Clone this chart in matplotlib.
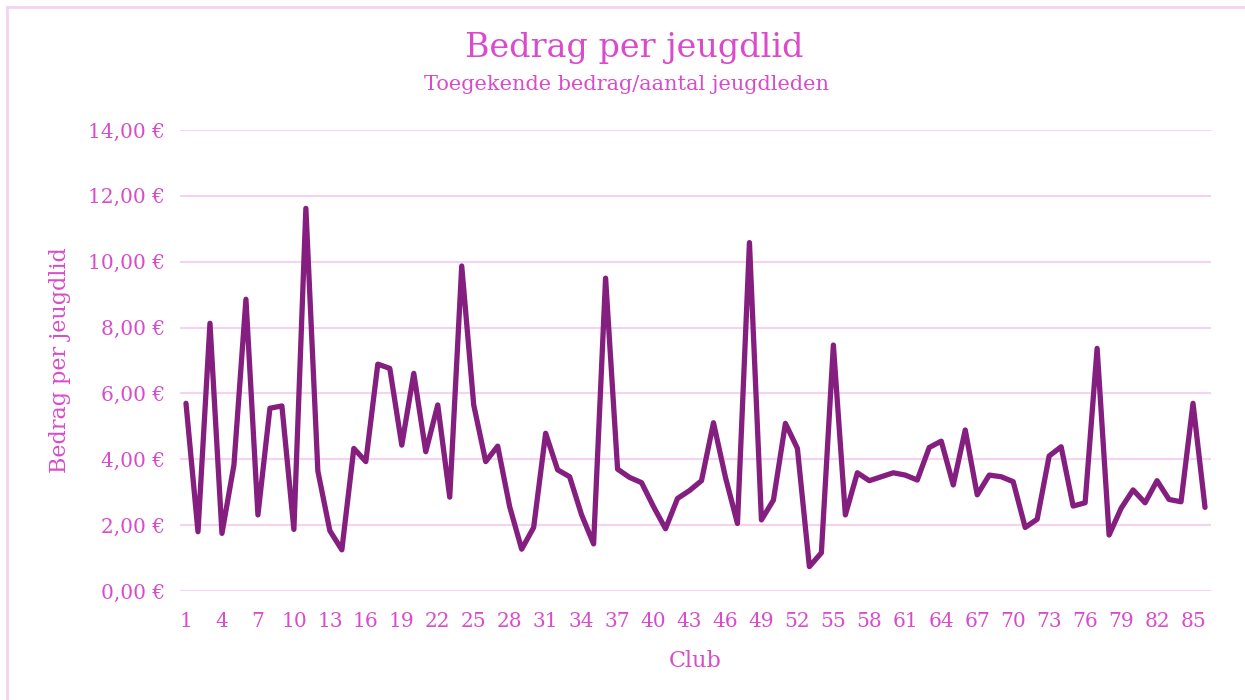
import matplotlib
matplotlib.use("Agg")
import matplotlib.pyplot as plt
from matplotlib.lines import Line2D
from matplotlib.ticker import FuncFormatter

# bedrag per jeugdlid, per club (1..86)
clubs = list(range(1, 87))
bedrag = [5.70, 1.80, 8.13, 1.75, 3.83, 8.86, 2.31, 5.55, 5.62, 1.87,
          11.62, 3.64, 1.83, 1.25, 4.33, 3.93, 6.89, 6.76, 4.43, 6.61,
          4.23, 5.65, 2.85, 9.87, 5.65, 3.93, 4.40, 2.56, 1.27, 1.93,
          4.79, 3.68, 3.47, 2.31, 1.43, 9.50, 3.70, 3.45, 3.29, 2.56,
          1.89, 2.81, 3.05, 3.35, 5.11, 3.45, 2.05, 10.58, 2.16, 2.76,
          5.09, 4.33, 0.74, 1.16, 7.47, 2.31, 3.59, 3.35, 3.47, 3.59,
          3.52, 3.37, 4.36, 4.55, 3.22, 4.89, 2.92, 3.52, 3.47, 3.32,
          1.93, 2.18, 4.10, 4.38, 2.58, 2.68, 7.37, 1.70, 2.51, 3.07,
          2.68, 3.35, 2.78, 2.71, 5.70, 2.54]
yticks = [0, 2, 4, 6, 8, 10, 12, 14]
xticks = list(range(1, 87, 3))

line_col = "#841F7F"
text_col = "#D94BCB"
grid_col = "#F5D3F0"

plt.rcParams['font.family'] = ['DejaVu Serif']

fig = plt.figure(figsize=(12.45, 7.0), dpi=100)
ax = fig.add_axes([180/1245, 1 - 591/700, (1211-180)/1245, (591-130)/700])

ax.plot(clubs, bedrag, color=line_col, lw=3.8, solid_joinstyle='round', solid_capstyle='round', zorder=3)

ax.set_xlim(0.5, 86.5)
ax.set_ylim(0, 14)
ax.set_yticks(yticks)
ax.set_xticks(xticks)
ax.yaxis.set_major_formatter(FuncFormatter(lambda v, p: ("%.2f €" % v).replace(".", ",")))
ax.tick_params(length=0, labelsize=14.5, colors=text_col, pad=11)
ax.tick_params(axis='x', pad=15)
ax.grid(axis='y', color=grid_col, lw=1.5)
ax.set_axisbelow(True)
for s in ax.spines.values():
    s.set_visible(False)

ax.set_xlabel("Club", fontsize=16, color=text_col, labelpad=14)
ax.set_ylabel("Bedrag per jeugdlid", fontsize=16, color=text_col, labelpad=12)

fig.text(634/1245, 1 - 48/700, "Bedrag per jeugdlid", ha='center', va='center', fontsize=24, color=text_col)
fig.text(627/1245, 1 - 84/700, "Toegekende bedrag/aantal jeugdleden", ha='center', va='center', fontsize=15, color=text_col)

# outer frame (left and top edges visible)
fig.add_artist(Line2D([7/1245, 7/1245], [0, 1 - 7/700], transform=fig.transFigure, color=grid_col, lw=2))
fig.add_artist(Line2D([7/1245, 1], [1 - 7/700, 1 - 7/700], transform=fig.transFigure, color=grid_col, lw=2))

fig.savefig("out.png", dpi=100)
